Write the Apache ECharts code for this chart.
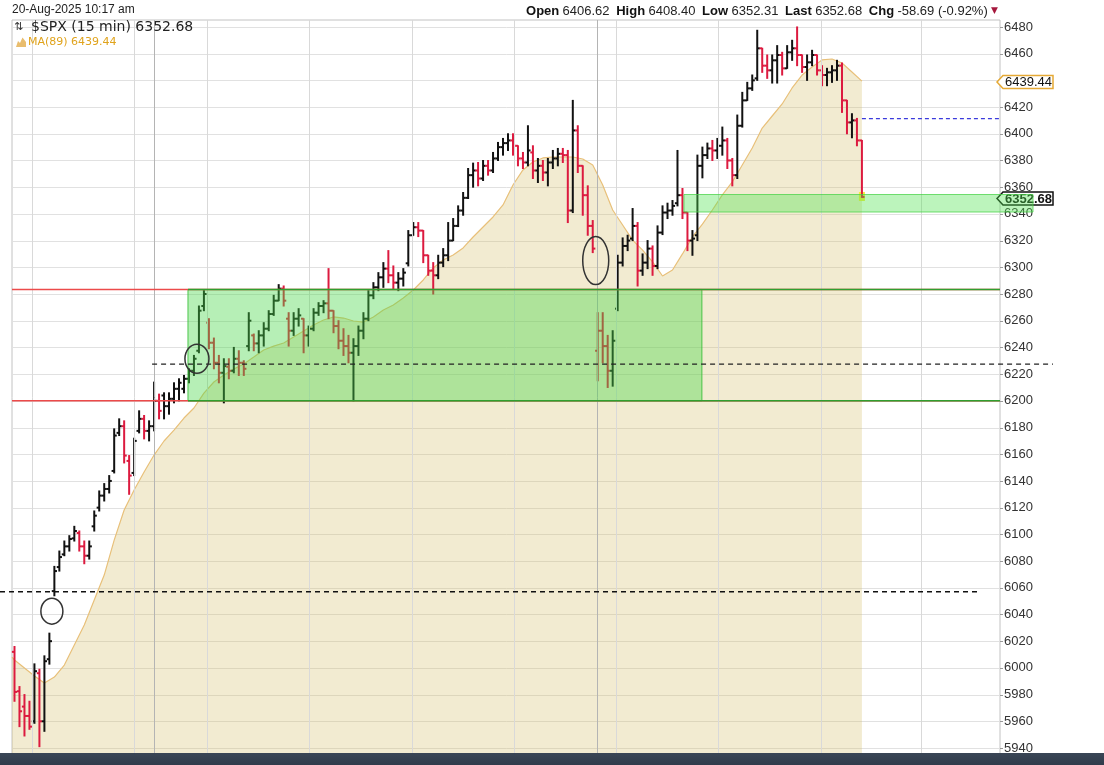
<!DOCTYPE html>
<html><head><meta charset="utf-8">
<script src="https://cdn.jsdelivr.net/npm/echarts@6/dist/echarts.min.js"></script>
<style>html,body{margin:0;padding:0;background:#fff;overflow:hidden;}#c{width:1104px;height:790px;}</style>
</head><body><div id="c"></div>
<script>
// ---- 15-min $SPX bars (one bar per ~5px) ----
const opens = [
6012,5982.5,5971,5964,5960,5996,5960,6006.5,6057.5,6075.5,
6085,6091,6097,6101,6091,6084,6106,6120,6129,6134,
6147.5,6176,6181,6155,6146,6177.5,6186.5,6177.5,6181,6200,
6204,6196,6201.5,6209,6209,6216.5,6222.5,6237.5,6271,6258.5,
6243.5,6228.5,6221,6225.5,6222.5,6231.5,6228.5,6241,6249,6243,
6249,6254,6265,6275,6284,6261.5,6252.5,6261.5,6261.5,6249,
6254,6266,6271,6273,6267.5,6256,6245,6241,6236,6241,
6252.5,6261.5,6279,6285,6292.5,6299,6294,6288.5,6291.5,6303,
6324,6330,6327.5,6309,6297.5,6294,6303.5,6309,6320,6331,
6342.5,6352,6369,6372.5,6366.5,6376,6372.5,6381.5,6390,6393,
6395,6391,6381.5,6378.5,6386,6372.5,6376,6371,6378.5,6381.5,
6385,6384,6342.5,6402.5,6376,6354,6331,6237.5,6252.5,6241,
6222.5,6269,6303.5,6316,6321.5,6331,6297.5,6303.5,6314,6301,
6326,6341,6342.5,6348,6354,6341,6320,6324,6376,6384,
6389,6387.5,6391,6395,6380,6369,6406,6425,6434,6441.5,
6464,6451,6447.5,6455,6459,6449,6461,6464,6459,6450,
6453.5,6459,6447.5,6444,6446,6447.5,6451,6425,6408.5,6410,
6395];
const highs = [
6016,5986,5980,5975,6003,5999,6009,6026,6076,6087.5,
6095,6099,6106,6102.5,6095,6095,6117.5,6132.5,6138,6144,
6179,6186.5,6185,6159,6172,6192.5,6189,6185,6214,6205,
6206,6206,6213.5,6216.5,6219,6224,6234,6271,6282.5,6261.5,
6247,6234,6231.5,6231.5,6240,6237.5,6230,6266,6250,6252.5,
6258.5,6267.5,6279,6287,6286,6266,6266,6269,6261.5,6256,
6269,6273.5,6275,6299,6267.5,6260,6254,6249,6246.5,6256,
6266,6282.5,6288.5,6296,6303.5,6312.5,6301,6296,6299,6327.5,
6333.5,6333.5,6327.5,6309,6303.5,6309,6314,6333.5,6336.5,6346,
6356,6374,6378,6378.5,6380,6380,6386,6393.5,6396.5,6400,
6400,6391,6386,6406,6391,6381.5,6380,6381.5,6387.5,6389,
6389,6387.5,6425,6406,6376,6361,6335,6266,6266,6249,
6252.5,6309,6322,6324,6344,6333.5,6310,6320,6316,6331,
6346,6348,6350,6387.5,6359,6341,6327.5,6384,6390,6393,
6395,6396.5,6405,6396.5,6381.5,6414,6431,6438.5,6444,6477.5,
6464,6459,6459,6466,6461,6466,6470,6480,6459,6459,
6462.5,6459,6451,6449,6451,6455,6453,6425,6415,6411.5,
6395];
const lows = [
5975,5956,5949,5954,5958.5,5941,5952.5,6002.8,6054,6072.5,
6084,6087.5,6095,6087.5,6078,6081.5,6102.5,6117.5,6125,6131,
6146,6174,6153.5,6130,6144,6176,6171.5,6170,6177.5,6186.5,
6186.5,6190,6198.5,6200,6206,6213.5,6219,6236,6267.5,6239,
6224,6213.5,6198.5,6216.5,6221,6219,6219,6237.5,6237.5,6236,
6241,6252.5,6264,6275,6271,6241,6249,6256,6236,6241,
6252.5,6264,6266,6261.5,6251,6239,6234,6228.5,6200,6234,
6246.5,6260,6276.5,6282.5,6285,6288.5,6284,6282.5,6286,6301,
6324,6323,6303.5,6294,6280,6291.5,6300.5,6305,6320,6330.5,
6339,6351.5,6360,6361,6365,6369,6371,6380,6384,6387.5,
6384,6376,6374,6376,6366.5,6363.5,6365,6361,6374,6376,
6378.5,6333.5,6341,6371,6339,6324,6311,6215,6228.5,6210,
6211,6267.5,6301,6312.5,6320,6286,6294,6299,6294,6299,
6324.5,6336.5,6339,6346,6336.5,6312.5,6309,6320,6367,6381.5,
6380,6381.5,6384,6374,6361,6366.5,6405,6425,6432.5,6440,
6446,6441.5,6438,6438,6444,6449,6455,6451,6446,6440,
6451,6444,6436,6436,6438.5,6440,6416,6400,6397,6391,
6352.31];
const closes = [
5982,5967.5,5964,5956,5997.5,5960,6005,6020,6072.5,6083,
6091,6096.5,6102.5,6091,6084,6091,6114,6129,6134,6140,
6174,6181,6159,6144,6170,6186.5,6177.5,6181,6200,6192.5,
6196,6201.5,6209,6213.5,6216.5,6222.5,6231.5,6267.5,6280,6243.5,
6228.5,6221,6226,6222.5,6231.5,6228.5,6224,6260,6243,6249,
6254,6265,6275,6284,6275,6252.5,6261.5,6264,6249,6254,
6266,6271,6273,6267.5,6256,6245,6241,6236,6241,6252.5,
6261.5,6279,6285,6292.5,6299,6294,6288.5,6291.5,6296,6324,
6330,6327.5,6309,6297.5,6294,6303.5,6309,6320,6331,6342.5,
6352,6369,6372.5,6366.5,6376,6372.5,6381.5,6390,6393,6395,
6391,6381.5,6378.5,6387.5,6372.5,6376,6371,6378.5,6381.5,6385,
6384,6342.5,6402.5,6376,6354,6331,6314,6252.5,6241,6222.5,
6245,6303.5,6316,6320,6331,6297.5,6303.5,6314,6301,6326,
6341,6342.5,6346,6354,6341,6320,6321.5,6376,6384,6389,
6387.5,6391,6395,6380,6369,6406,6425,6434,6440,6464,
6451,6447.5,6455,6459,6449,6461,6464,6459,6450,6453.5,
6459,6447.5,6444,6446,6447.5,6451,6425,6408.5,6410,6395,
6352.68];
// MA(89): value at the plot's left edge, then read every 2 bars
const maLeftEdge = [-0.5, 6008];
const maStep = 2;
const maValues = [
6005.9,5999.9,5993.9,5988.6,5993.1,6002.1,6017.1,6032.1,6050.8,6069.5,
6095.7,6118.2,6133.2,6146.7,6159.4,6169.9,6178.1,6187.1,6194.6,6205.8,
6214.1,6219.3,6223.8,6227.6,6232.8,6238.1,6241.0,6243.3,6247.8,6252.3,
6256.8,6260.5,6262.8,6262.0,6259.8,6259.0,6262.8,6268.0,6271.8,6277.0,
6283.0,6290.5,6299.5,6305.5,6309.2,6314.5,6322.7,6330.2,6337.7,6346.7,
6361.6,6372.9,6378.9,6381.9,6382.6,6382.6,6382.6,6381.1,6376.6,6361.6,
6342.9,6331.7,6320.4,6312.9,6304.0,6293.5,6298.0,6310.0,6322.7,6332.4,
6342.9,6354.2,6363.9,6376.6,6389.3,6404.3,6413.3,6422.3,6434.3,6444.0,
6450.0,6455.3,6456.0,6453.0,6446.3,6439.44];
// price grid / tick labels
const yTickMin = 5940, yTickMax = 6480, yTickStep = 20;
// vertical separators (bar positions): weeks and month starts
const weekLines = [3.5, 24, 38.6, 59.1, 79.7, 100.2, 120.7, 141.1, 161.8, 182.0];
const monthLines = [28.0, 116.9];
// annotations (price levels / bar positions)
const resistance = 6283.4, support = 6200;
const zoneStart = 34.8, zoneEnd = 137.9;
const midDash = 6227.5, midDashStart = 27.6;
const lowDash = 6057, lowDashEnd = 193.3;
const prevClose = 6411.37;
const band2Top = 6354.5, band2Bottom = 6341.4, band2Start = 134.3;
const circles = [[7.5, 6042.5, 11, 13], [36.6, 6231.5, 12, 14.5], [116.6, 6305, 13, 24]];
const maLast = 6439.44, lastPrice = 6352.68;
const headerStats = [['Open','6406.62'],['High','6408.40'],['Low','6352.31'],['Last','6352.68'],['Chg','-58.69 (-0.92%)']];

const FONT = "'Liberation Sans', Arial, sans-serif";
const chart = echarts.init(document.getElementById('c'));
const ohlc = opens.map((o,i)=>[i,o,closes[i],lows[i],highs[i]]);
const maData = [maLeftEdge].concat(maValues.map((v,k)=>[k*maStep, v]));

chart.setOption({
  animation:false,
  grid:{left:12, top:20, width:988, height:754.7, show:true, borderColor:'#c2c2c2', borderWidth:1,
        containLabel:false, outerBoundsMode:'none'},
  xAxis:{type:'value', min:-0.5, max:197.7, show:false},
  yAxis:{type:'value', position:'right', min:5920, max:6485.2, interval:yTickStep,
    axisLine:{show:false, onZero:false},
    axisTick:{show:false},
    axisLabel:{showMaxLabel:false, showMinLabel:false, margin:4, color:'#333', fontFamily:FONT, fontSize:13, formatter:v=>String(v)},
    splitLine:{show:false}},
  series:[
    {type:'line', z:1, data:maData, symbol:'none', showSymbol:false,
     lineStyle:{color:'#e8c07a', width:1.2},
     areaStyle:{color:'rgba(212,186,100,0.42)', origin:'start'},
     markLine:{silent:true, symbol:['none','none'], label:{show:false}, animation:false,
       lineStyle:{color:'#d9d9d9', width:1, type:'solid'},
       emphasis:{disabled:true},
       data:[...weekLines.map(v=>({xAxis:v})), ...monthLines.map(v=>({xAxis:v, lineStyle:{color:'#b4b4b4', width:1, type:'solid'}}))]}},
    {type:'custom', z:3, data:ohlc, encode:{x:0, y:[1,2,3,4]},
     renderItem:function(params, api){
       const i = api.value(0);
       const o = api.coord([i, api.value(1)]);
       const c = api.coord([i, api.value(2)]);
       const l = api.coord([i, api.value(3)]);
       const h = api.coord([i, api.value(4)]);
       const idx = params.dataIndex;
       const prev = idx > 0 ? closes[idx-1] : opens[0];
       const col = closes[idx] >= prev ? '#111111' : '#dc1a3f';
       const lw = 2, t = 2.6;
       return {type:'group', children:[
         {type:'line', shape:{x1:h[0], y1:h[1]-0.5, x2:l[0], y2:l[1]+0.5}, style:{stroke:col, lineWidth:lw}},
         {type:'line', shape:{x1:o[0]-t, y1:o[1], x2:o[0], y2:o[1]}, style:{stroke:col, lineWidth:lw}},
         {type:'line', shape:{x1:c[0], y1:c[1], x2:c[0]+t, y2:c[1]}, style:{stroke:col, lineWidth:lw}}
       ]};
     }}
  ]
});

const P = (x,y)=>chart.convertToPixel({gridIndex:0},[x,y]);
const gridL = 12, gridR = 1000;
const yRes = P(0,resistance)[1], ySup = P(0,support)[1];
const xZ0 = P(zoneStart,0)[0], xZ1 = P(zoneEnd,0)[0];
const g = [];
// horizontal price grid lines + outward tick marks
for (let v = yTickMin; v <= yTickMax; v += yTickStep) {
  const y = Math.round(P(0,v)[1]) + 0.5;
  g.push({type:'line', z:0, silent:true, shape:{x1:gridL+0.5, y1:y, x2:gridR, y2:y}, style:{stroke:'#e1e1e1', lineWidth:1}});
  g.push({type:'line', z:4, silent:true, shape:{x1:gridR, y1:y, x2:gridR+3, y2:y}, style:{stroke:'#9a9a9a', lineWidth:1}});
}
// zone rectangle
g.push({type:'rect', z:5, shape:{x:xZ0, y:yRes, width:xZ1-xZ0, height:ySup-yRes},
  style:{fill:'rgba(72,214,72,0.4)', stroke:'rgba(52,190,52,0.85)', lineWidth:1}});
// horizontal level lines
[yRes, ySup].forEach(y=>{
  g.push({type:'line', z:6, shape:{x1:gridL, y1:y, x2:gridR, y2:y}, style:{stroke:'#ec4a4a', lineWidth:1.5}});
  g.push({type:'line', z:6.5, shape:{x1:xZ0, y1:y, x2:gridR, y2:y}, style:{stroke:'#2f9f2f', lineWidth:1.5}});
});
// dashed lines
const yMid = P(0,midDash)[1];
g.push({type:'line', z:7, shape:{x1:P(midDashStart,0)[0], y1:yMid, x2:1053, y2:yMid}, style:{stroke:'#222', lineWidth:1.3, lineDash:[5,4]}});
const yLow = P(0,lowDash)[1];
g.push({type:'line', z:7, shape:{x1:0, y1:yLow, x2:P(lowDashEnd,0)[0], y2:yLow}, style:{stroke:'#111', lineWidth:1.3, lineDash:[5,4]}});
const yPrev = P(0,prevClose)[1];
g.push({type:'line', z:7, shape:{x1:P(closes.length-1,0)[0], y1:yPrev, x2:gridR, y2:yPrev}, style:{stroke:'#3b3bdc', lineWidth:1.2, lineDash:[4,3]}});
// ellipses
circles.forEach(([cx,cy,rx,ry])=>{
  const p = P(cx,cy);
  g.push({type:'ellipse', z:7, shape:{cx:p[0], cy:p[1], rx:rx, ry:ry}, style:{fill:'none', stroke:'#333', lineWidth:1.5}});
});
// yellow highlight on last bar
const pl = P(closes.length-1, lastPrice);
g.push({type:'rect', z:2, shape:{x:pl[0]-3, y:pl[1]-5, width:6, height:9}, style:{fill:'#f4ee3c'}});
// price tags
function tag(y, stroke, text, bold, zz){
  g.push({type:'polygon', z:zz, shape:{points:[[997,y],[1003,y-6.5],[1053,y-6.5],[1053,y+6.5],[1003,y+6.5]]},
    style:{fill:'#fff', stroke:stroke, lineWidth:1.5}});
  g.push({type:'text', z:zz+0.1, style:{x:1005, y:y+0.5, text:text, fill:'#111', font:(bold?'bold ':'')+'13px '+FONT, align:'left', verticalAlign:'middle'}});
}
tag(P(0,maLast)[1]+1, '#e5a935', String(maLast), false, 10);
tag(P(0,lastPrice)[1]+1.5, '#111', String(lastPrice), true, 10);
// green band 2
const yB1 = P(0,band2Top)[1], yB2 = P(0,band2Bottom)[1], xB = P(band2Start,0)[0];
g.push({type:'rect', z:11, shape:{x:xB, y:yB1, width:1033-xB, height:yB2-yB1},
  style:{fill:'rgba(80,226,80,0.38)', stroke:'rgba(70,210,70,0.75)', lineWidth:1}});
// header texts
g.push({type:'text', z:12, style:{x:12, y:10, text:'20-Aug-2025 10:17 am', fill:'#222', font:'12px '+FONT, align:'left', verticalAlign:'middle'}});
let rich = headerStats.map(([k,v])=>'{b|'+k+'} {v|'+v+'}').join('  ') + ' {t|▼}';
g.push({type:'text', z:12, style:{x:998, y:11, text:rich, align:'right', verticalAlign:'middle',
  rich:{b:{font:'bold 13px '+FONT, fill:'#111'}, v:{font:'13px '+FONT, fill:'#222'}, t:{font:'9px DejaVu Sans', fill:'#a5173c'}}}});
// legend
g.push({type:'text', z:12, style:{x:14, y:27, text:'⇅', fill:'#333', font:'11px DejaVu Sans', align:'left', verticalAlign:'middle'}});
g.push({type:'text', z:12, style:{x:31, y:27, text:'$SPX (15 min) ' + lastPrice, fill:'#222', font:"14px 'DejaVu Sans'", align:'left', verticalAlign:'middle'}});
g.push({type:'polygon', z:12, shape:{points:[[16,47],[18,41],[20,43],[22.5,37.5],[26,42],[26,47]]}, style:{fill:'#e9bd6e'}});
g.push({type:'text', z:12, style:{x:28, y:42, text:'MA(89) ' + maLast, fill:'#e0a31c', font:"11px 'DejaVu Sans'", align:'left', verticalAlign:'middle'}});
// taskbar strip at bottom
g.push({type:'rect', z:50, shape:{x:0, y:753, width:1104, height:40},
  style:{fill:new echarts.graphic.LinearGradient(0,0,0,1,[{offset:0,color:'#3a4656'},{offset:1,color:'#182230'}])}});
chart.setOption({graphic:{elements:g}});
</script>
</body></html>
